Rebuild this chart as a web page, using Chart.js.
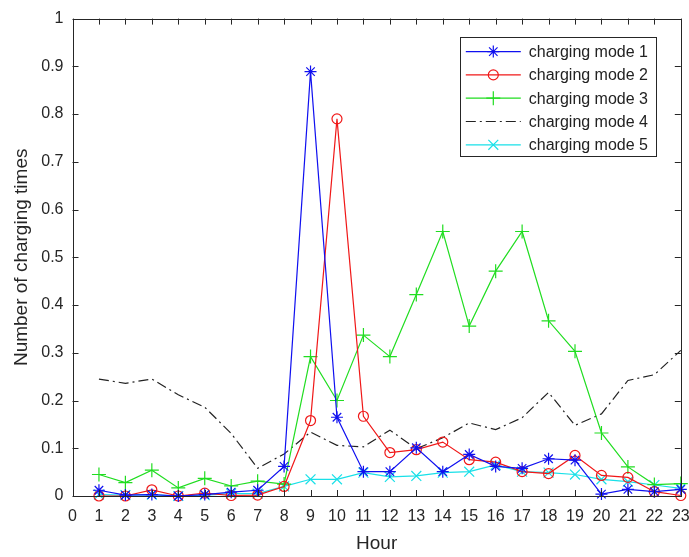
<!DOCTYPE html>
<html>
<head>
<meta charset="utf-8">
<script src="https://cdn.jsdelivr.net/npm/chart.js@4.4.1/dist/chart.umd.min.js"></script>
<style>
  body { margin: 0; background: #fff; }
  canvas { display: block; }
</style>
</head>
<body>
<canvas id="chargingChart" width="689" height="557"></canvas>
<script>
// hours of the day (data starts at 1)
const hours = [1, 2, 3, 4, 5, 6, 7, 8, 9, 10, 11, 12, 13, 14, 15, 16, 17, 18, 19, 20, 21, 22, 23];

const mode1 = [0.012, 0.002, 0.003, 0.000, 0.003, 0.008, 0.012, 0.062, 0.889, 0.165, 0.051, 0.051,
               0.101, 0.051, 0.087, 0.062, 0.058, 0.078, 0.075, 0.004, 0.014, 0.009, 0.014];
const mode2 = [0.000, 0.000, 0.013, 0.000, 0.006, 0.001, 0.002, 0.020, 0.158, 0.790, 0.167, 0.091,
               0.097, 0.113, 0.076, 0.071, 0.051, 0.047, 0.085, 0.043, 0.039, 0.009, 0.001];
const mode3 = [0.045, 0.028, 0.054, 0.017, 0.037, 0.021, 0.031, 0.025, 0.292, 0.200, 0.337, 0.292,
               0.422, 0.554, 0.356, 0.471, 0.554, 0.367, 0.303, 0.132, 0.061, 0.024, 0.026];
const mode4 = [0.245, 0.236, 0.245, 0.212, 0.186, 0.131, 0.058, 0.088, 0.134, 0.106, 0.103, 0.138,
               0.099, 0.122, 0.153, 0.139, 0.164, 0.217, 0.148, 0.172, 0.242, 0.254, 0.305];
const mode5 = [0.003, 0.002, 0.003, 0.000, 0.002, 0.005, 0.005, 0.020, 0.035, 0.035, 0.049, 0.040,
               0.042, 0.049, 0.051, 0.065, 0.051, 0.049, 0.045, 0.035, 0.030, 0.023, 0.016];

const seriesLabels = ['charging mode 1', 'charging mode 2', 'charging mode 3', 'charging mode 4', 'charging mode 5'];

const FONT = "'Liberation Sans', Arial, Helvetica, sans-serif";
const AXIS = '#262626';

const pts = arr => arr.map((v, i) => ({ x: hours[i], y: v }));

// MATLAB-like box with inward ticks on all four sides
const boxPlugin = {
  id: 'box',
  afterDatasetsDraw(chart) {
    const { ctx, chartArea: a, scales } = chart;
    const len = 6;
    ctx.save();
    ctx.strokeStyle = AXIS;
    ctx.lineWidth = 1;
    ctx.strokeRect(Math.round(a.left) + 0.5, Math.round(a.top) + 0.5,
                   Math.round(a.right - a.left), Math.round(a.bottom - a.top));
    ctx.beginPath();
    scales.x.ticks.forEach(t => {
      const x = Math.round(scales.x.getPixelForValue(t.value)) + 0.5;
      ctx.moveTo(x, a.bottom); ctx.lineTo(x, a.bottom - len);
      ctx.moveTo(x, a.top); ctx.lineTo(x, a.top + len);
    });
    scales.y.ticks.forEach(t => {
      const y = Math.round(scales.y.getPixelForValue(t.value)) + 0.5;
      ctx.moveTo(a.left, y); ctx.lineTo(a.left + len, y);
      ctx.moveTo(a.right, y); ctx.lineTo(a.right - len, y);
    });
    ctx.stroke();
    ctx.restore();
  }
};

// legend box inside the plot, top right
const legendPlugin = {
  id: 'boxLegend',
  afterDraw(chart) {
    const { ctx, chartArea: a } = chart;
    const w = 196, h = 119, rowH = 23.3;
    const x0 = a.right - 25 - w, y0 = a.top + 18;
    ctx.save();
    ctx.fillStyle = '#fff';
    ctx.fillRect(x0, y0, w, h);
    ctx.strokeStyle = AXIS;
    ctx.lineWidth = 1;
    ctx.strokeRect(Math.round(x0) + 0.5, Math.round(y0) + 0.5, w, h);
    ctx.font = '16px ' + FONT;
    ctx.textBaseline = 'middle';
    chart.data.datasets.forEach((ds, i) => {
      const y = y0 + 15 + i * rowH;
      ctx.strokeStyle = ds.borderColor;
      ctx.lineWidth = ds.borderWidth;
      ctx.setLineDash(ds.borderDash || []);
      ctx.beginPath();
      ctx.moveTo(x0 + 6, y); ctx.lineTo(x0 + 61, y);
      ctx.stroke();
      ctx.setLineDash([]);
      if (ds.pointRadius > 0) {
        ctx.fillStyle = 'rgba(0,0,0,0)';
        Chart.helpers.drawPoint(ctx, {
          pointStyle: ds.pointStyle, radius: ds.pointRadius,
          rotation: 0, borderWidth: ds.borderWidth
        }, x0 + 33.5, y);
      }
      ctx.fillStyle = '#222';
      ctx.fillText(ds.label, x0 + 69, y + 1);
    });
    ctx.restore();
  }
};

function line(label, data, color, style, radius, dash) {
  return {
    label: label,
    data: pts(data),
    borderColor: color,
    backgroundColor: 'rgba(0,0,0,0)',
    borderWidth: 1.2,
    borderDash: dash || [],
    pointStyle: style,
    pointRadius: radius,
    pointBorderColor: color,
    pointBackgroundColor: 'rgba(0,0,0,0)',
    pointBorderWidth: 1.2,
    tension: 0,
    clip: false
  };
}

new Chart(document.getElementById('chargingChart'), {
  type: 'line',
  data: {
    datasets: [
      line(seriesLabels[0], mode1, '#1010f0', 'star', 6),
      line(seriesLabels[1], mode2, '#f01818', 'circle', 5),
      line(seriesLabels[2], mode3, '#20dd20', 'cross', 7),
      line(seriesLabels[3], mode4, '#222222', 'circle', 0, [10, 4, 2, 4]),
      line(seriesLabels[4], mode5, '#18e0e8', 'crossRot', 7)
    ]
  },
  options: {
    responsive: false,
    animation: false,
    layout: { padding: { top: 16, right: 5, left: 0, bottom: 0 } },
    plugins: {
      legend: { display: false },
      tooltip: { enabled: false }
    },
    scales: {
      x: {
        type: 'linear',
        min: 0,
        max: 23,
        grid: { display: false, drawTicks: false },
        border: { display: false },
        ticks: {
          stepSize: 1,
          autoSkip: false,
          maxRotation: 0,
          padding: 11,
          color: AXIS,
          font: { family: FONT, size: 16 },
          callback: v => v
        },
        title: {
          display: true,
          text: 'Hour',
          color: AXIS,
          font: { family: FONT, size: 19 },
          padding: { top: 0, bottom: 2 }
        },
        afterFit: s => { s.height = 61; s.paddingRight = 5; s.paddingLeft = 0; }
      },
      y: {
        min: 0,
        max: 1,
        grid: { display: false, drawTicks: false },
        border: { display: false },
        ticks: {
          stepSize: 0.1,
          padding: 9,
          color: AXIS,
          font: { family: FONT, size: 16 },
          callback: v => String(+v.toFixed(1))
        },
        title: {
          display: true,
          text: 'Number of charging times',
          color: AXIS,
          font: { family: FONT, size: 19 },
          padding: { top: 10, bottom: 0 }
        },
        afterFit: s => { s.width = 72.5; }
      }
    }
  },
  plugins: [boxPlugin, legendPlugin]
});
</script>
</body>
</html>
